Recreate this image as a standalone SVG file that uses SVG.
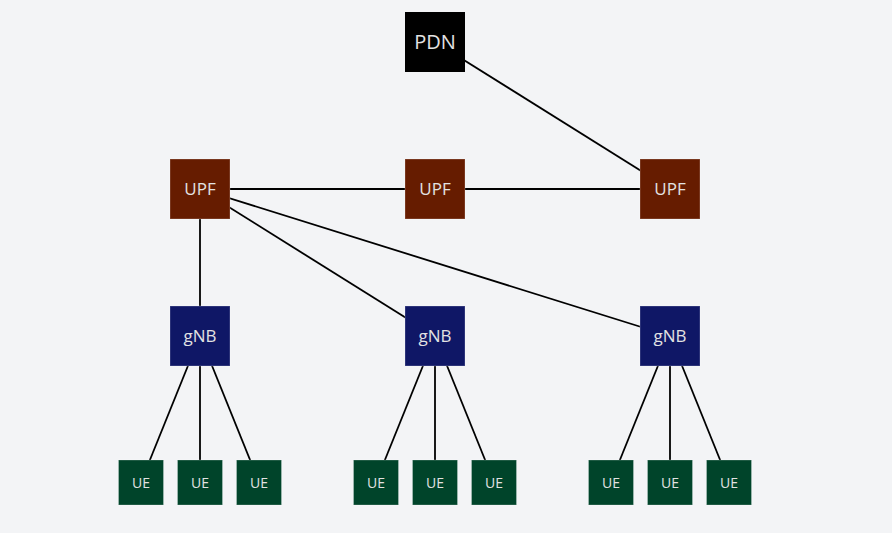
<svg xmlns="http://www.w3.org/2000/svg" width="892" height="533" viewBox="0 0 892 533">
<style>
.bg{fill:#f3f4f6}
.edge{stroke:#000;stroke-width:1.8;fill:none}
.box{stroke:#ffffff;stroke-opacity:0.25;stroke-width:1}
.pdn{fill:#000}
.upf{fill:#661c00}
.gnb{fill:#0f1766}
.ue{fill:#00442a}
text{font-family:"Open Sans","Noto Sans",sans-serif;fill:#e2e2e2;text-anchor:middle}
.t20{font-size:20px}
.t17{font-size:17px}
.t14{font-size:14px}
</style>
<rect class="bg" x="0" y="0" width="892" height="533"/>
<g id="connectors">
<line class="edge" x1="435" y1="42" x2="670" y2="189"/>
<line class="edge" x1="200" y1="189" x2="435" y2="189"/>
<line class="edge" x1="435" y1="189" x2="670" y2="189"/>
<line class="edge" x1="200" y1="189" x2="200" y2="336"/>
<line class="edge" x1="200" y1="189" x2="435" y2="336"/>
<line class="edge" x1="200" y1="189" x2="670" y2="336"/>
<line class="edge" x1="200" y1="336" x2="141" y2="482"/>
<line class="edge" x1="200" y1="336" x2="200" y2="482"/>
<line class="edge" x1="200" y1="336" x2="259" y2="482"/>
<line class="edge" x1="435" y1="336" x2="376" y2="482"/>
<line class="edge" x1="435" y1="336" x2="435" y2="482"/>
<line class="edge" x1="435" y1="336" x2="494" y2="482"/>
<line class="edge" x1="670" y1="336" x2="611" y2="482"/>
<line class="edge" x1="670" y1="336" x2="670" y2="482"/>
<line class="edge" x1="670" y1="336" x2="729" y2="482"/>
</g>
<g id="pdn"><rect class="pdn" x="405" y="12" width="60" height="60"/><text class="t20" x="435" y="49">PDN</text></g>
<g id="upf1"><rect class="upf box" x="170" y="159" width="60" height="60"/><text class="t17" x="200" y="195">UPF</text></g>
<g id="upf2"><rect class="upf box" x="405" y="159" width="60" height="60"/><text class="t17" x="435" y="195">UPF</text></g>
<g id="upf3"><rect class="upf box" x="640" y="159" width="60" height="60"/><text class="t17" x="670" y="195">UPF</text></g>
<g id="gnb1"><rect class="gnb box" x="170" y="306" width="60" height="60"/><text class="t17" x="200" y="342">gNB</text></g>
<g id="gnb2"><rect class="gnb box" x="405" y="306" width="60" height="60"/><text class="t17" x="435" y="342">gNB</text></g>
<g id="gnb3"><rect class="gnb box" x="640" y="306" width="60" height="60"/><text class="t17" x="670" y="342">gNB</text></g>
<g id="ue1"><rect class="ue box" x="118.5" y="460" width="45" height="45"/><text class="t14" x="141" y="487.5">UE</text></g>
<g id="ue2"><rect class="ue box" x="177.5" y="460" width="45" height="45"/><text class="t14" x="200" y="487.5">UE</text></g>
<g id="ue3"><rect class="ue box" x="236.5" y="460" width="45" height="45"/><text class="t14" x="259" y="487.5">UE</text></g>
<g id="ue4"><rect class="ue box" x="353.5" y="460" width="45" height="45"/><text class="t14" x="376" y="487.5">UE</text></g>
<g id="ue5"><rect class="ue box" x="412.5" y="460" width="45" height="45"/><text class="t14" x="435" y="487.5">UE</text></g>
<g id="ue6"><rect class="ue box" x="471.5" y="460" width="45" height="45"/><text class="t14" x="494" y="487.5">UE</text></g>
<g id="ue7"><rect class="ue box" x="588.5" y="460" width="45" height="45"/><text class="t14" x="611" y="487.5">UE</text></g>
<g id="ue8"><rect class="ue box" x="647.5" y="460" width="45" height="45"/><text class="t14" x="670" y="487.5">UE</text></g>
<g id="ue9"><rect class="ue box" x="706.5" y="460" width="45" height="45"/><text class="t14" x="729" y="487.5">UE</text></g>
</svg>
